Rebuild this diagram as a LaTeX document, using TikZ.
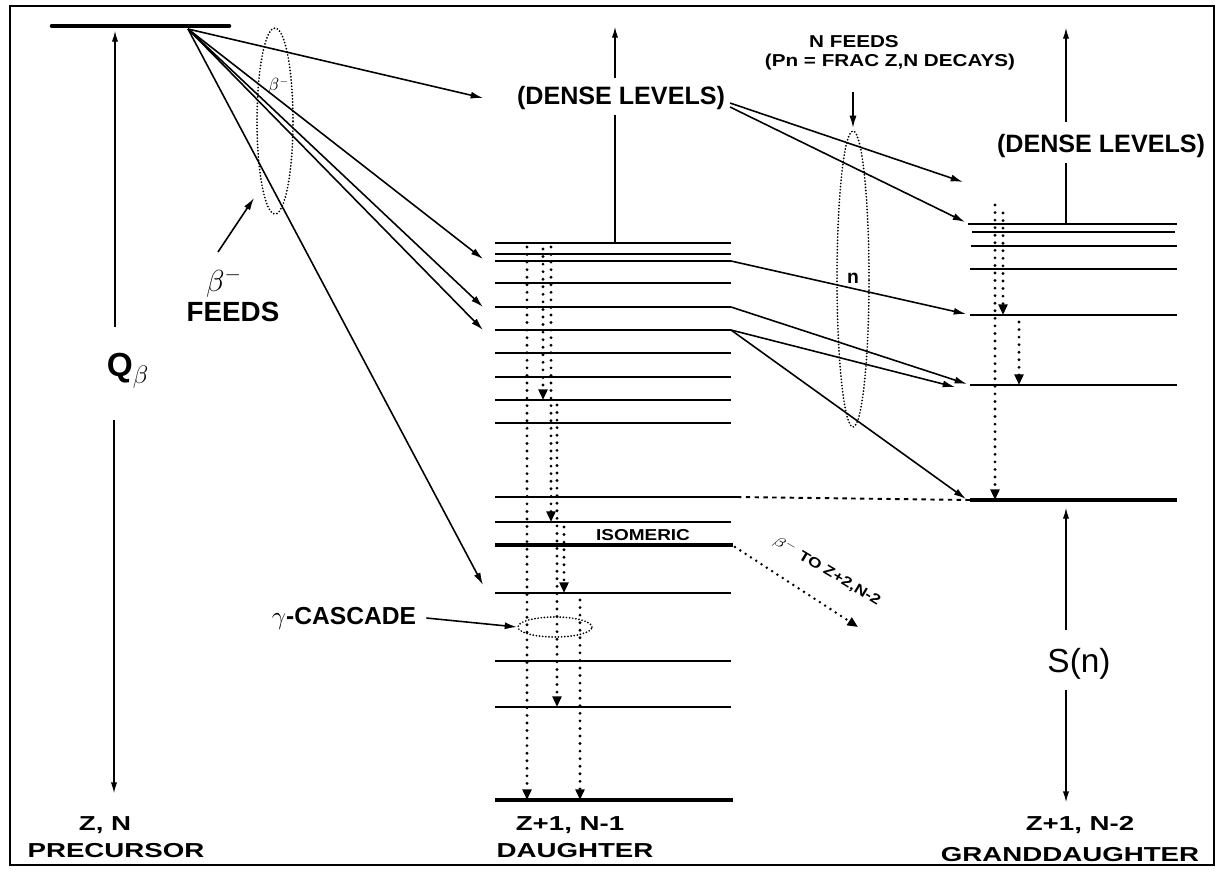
\documentclass[tikz,border=0pt]{standalone}
\usepackage{graphicx}
\usepackage{fontspec}
\setmainfont{Liberation Sans}
\usetikzlibrary{arrows.meta}
\newcommand\stretchtxt[2]{\scalebox{#1}[1]{#2}}
\begin{document}
\begin{tikzpicture}[x=0.02cm,y=-0.02cm,
  lvl/.style={line width=1.1pt},
  thicklvl/.style={line width=2.6pt},
  feed/.style={line width=0.9pt,-{Latex[length=7pt,width=4pt]}},
  axisarrow/.style={line width=0.6pt,-{Latex[length=6pt,width=3.5pt]}},
  axisline/.style={line width=0.6pt},
  gam/.style={line width=1.8pt,line cap=round,dash pattern=on 0pt off 4.3pt,-{Triangle[length=6pt,width=5pt]}},
  isodots/.style={line width=1.6pt,line cap=round,dash pattern=on 0pt off 3.6pt,-{Triangle[length=6pt,width=5pt]}},
  ell/.style={line width=1.1pt,line cap=round,dash pattern=on 0pt off 1.8pt},
  dashlvl/.style={line width=1.1pt,dash pattern=on 2.5pt off 2.5pt},
  lab/.style={inner sep=0pt,font=\fontsize{11.5}{12}\selectfont\bfseries},
  txt/.style={inner sep=0pt}
]
% canvas and frame
\fill[white] (0,0) rectangle (1219,873);
\useasboundingbox (0,0) rectangle (1219,873);
\draw[line width=1.1pt] (10,6) rectangle (1214,865);

% ================= precursor =================
\draw[thicklvl,line cap=round] (52,26) coordinate (preL) -- (229,26) coordinate (preR);
\coordinate (pre) at (188,29);
\node[txt,font=\fontsize{19}{20}\selectfont\bfseries] (qlab) at (128,371) {Q$_{\beta}$};
\coordinate (qtop) at (115,31);
\coordinate (qup) at (115,327);
\coordinate (qdn) at (114,420);
\coordinate (qbot) at (114,793);
\draw[axisarrow] (qup) -- (qtop);
\draw[axisarrow] (qdn) -- (qbot);

% beta feeds ellipse and labels
\coordinate (bell) at (275,121);
\draw[ell] (bell) ellipse [x radius=0.36cm, y radius=1.86cm];
\node[txt,font=\fontsize{10}{11}\selectfont] (bsmall) at (279,86) {$\beta^{\scriptscriptstyle -}$};
\node[txt,font=\fontsize{17}{18}\selectfont] (bbig) at (224,283) {$\beta^{-}$};
\node[txt,font=\fontsize{15.8}{17}\selectfont\bfseries] (feedslab) at (233,312) {FEEDS};
\coordinate (fa0) at (218,252);
\coordinate (fa1) at (254,198);
\draw[feed] (fa0) -- (fa1);

% ================= daughter levels =================
\foreach \yy/\nm in {243/d1,254/d2,261/d3,283/d4,307/d5,330/d6,353/d7,377/d8,400/d9,423/d10,522/d12,593/d14,661/d15,707/d16}
  \draw[lvl] (495,\yy) coordinate (\nm L) -- (731,\yy) coordinate (\nm R);
\draw[lvl] (495,497) coordinate (d11L) -- (737,497) coordinate (d11R);
\draw[thicklvl] (495,545) coordinate (d13L) -- (733,545) coordinate (d13R);
\draw[thicklvl] (495,800) coordinate (d17L) -- (733,800) coordinate (d17R);

% beta feeds to daughter
\coordinate (t1) at (483,98);
\coordinate (t2) at (483,259);
\coordinate (t3) at (483,307);
\coordinate (t4) at (483,330);
\coordinate (t5) at (483,585);
\foreach \t in {t1,t2,t3,t4,t5} \draw[feed] (pre) -- (\t);

% daughter dense levels
\node[txt,font=\fontsize{14.3}{16}\selectfont\bfseries] (dense1) at (621,98) {(DENSE LEVELS)};
\coordinate (dv0) at (615,243);
\coordinate (dv1) at (615,115);
\coordinate (dv2) at (615,78);
\coordinate (dv3) at (615,27);
\draw[axisline] (dv0) -- (dv1);
\draw[axisarrow] (dv2) -- (dv3);

% gamma cascade dotted arrows
\draw[gam] (527,247) coordinate (gA0) -- (527,800) coordinate (gA1);
\draw[gam] (543,249) coordinate (gB0) -- (543,400) coordinate (gB1);
\draw[gam] (551,247) coordinate (gC0) -- (551,522) coordinate (gC1);
\draw[gam] (557,405) coordinate (gD0) -- (557,707) coordinate (gD1);
\draw[gam] (564,527) coordinate (gE0) -- (564,593) coordinate (gE1);
\draw[gam] (580,600) coordinate (gF0) -- (580,800) coordinate (gF1);

% gamma cascade ellipse and label
\coordinate (gell) at (555,627);
\draw[ell] (gell) ellipse [x radius=0.74cm, y radius=0.2cm];
\node[txt,font=\fontsize{14}{15}\selectfont\bfseries] (gclab) at (344,618) {$\gamma$-CASCADE};
\coordinate (gcw) at (517,627);
\draw[feed] (gclab.east) ++(0.2cm,0) coordinate (gcs) -- (gcw);

% isomeric
\node[txt,font=\fontsize{9}{10}\selectfont\bfseries] (iso) at (643,535) {\stretchtxt{1.2}{ISOMERIC}};
\coordinate (isoend) at (858,627);
\draw[isodots] (735,547) coordinate (isostart) -- (isoend);
\node[txt,font=\fontsize{8}{9}\selectfont\bfseries,rotate=-31] (isolab) at (827,571) {\stretchtxt{1.25}{$\beta^{\scriptscriptstyle -}$ TO Z+2,N-2}};

% ================= granddaughter levels =================
\draw[lvl] (968,224) coordinate (g1L) -- (1177,224) coordinate (g1R);
\draw[lvl] (972,232) coordinate (g2L) -- (1175,232) coordinate (g2R);
\draw[lvl] (971,246) coordinate (g3L) -- (1177,246) coordinate (g3R);
\draw[lvl] (970,269) coordinate (g4L) -- (1177,269) coordinate (g4R);
\draw[lvl] (970,315) coordinate (g5L) -- (1177,315) coordinate (g5R);
\draw[lvl] (970,385) coordinate (g6L) -- (1177,385) coordinate (g6R);
\draw[thicklvl] (970,500) coordinate (g7L) -- (1177,500) coordinate (g7R);

% dashed link daughter level -> granddaughter ground
\draw[dashlvl] (d11R) -- (g7L);

% granddaughter dense levels
\node[txt,font=\fontsize{14.3}{16}\selectfont\bfseries] (dense2) at (1101,146) {(DENSE LEVELS)};
\coordinate (gv0) at (1066,224);
\coordinate (gv1) at (1066,163);
\coordinate (gv2) at (1066,122);
\coordinate (gv3) at (1066,28);
\draw[axisline] (gv0) -- (gv1);
\draw[axisarrow] (gv2) -- (gv3);

% neutron feeds from daughter dense levels
\coordinate (nd1) at (730,103);
\coordinate (nd2) at (730,107);
\coordinate (ng1) at (963,182);
\coordinate (ng2) at (965,222);
\draw[feed] (nd1) -- (ng1);
\draw[feed] (nd2) -- (ng2);

% neutron feeds from discrete daughter levels
\coordinate (ng5) at (966,314);
\coordinate (ng6a) at (967,384);
\coordinate (ng6b) at (955,387);
\coordinate (ng7) at (966,499);
\draw[feed] (d3R) -- (ng5);
\draw[feed] (d5R) -- (ng6a);
\draw[feed] (d6R) -- (ng6b);
\draw[feed] (d6R) -- (ng7);

% N feeds label, arrow, ellipse
\node[txt,font=\fontsize{9.8}{11}\selectfont\bfseries] (nfeeds) at (854,42) {\stretchtxt{1.2}{N FEEDS}};
\node[txt,font=\fontsize{9.8}{11}\selectfont\bfseries] (pn) at (890,62) {\stretchtxt{1.2}{(Pn = FRAC Z,N DECAYS)}};
\coordinate (na0) at (853,92);
\coordinate (na1) at (853,128);
\draw[feed] (na0) -- (na1);
\coordinate (nell) at (853,279);
\draw[ell] (nell) ellipse [x radius=0.32cm, y radius=2.96cm];
\node[txt,font=\fontsize{11}{12}\selectfont\bfseries] (nlab) at (853,278) {n};

% granddaughter gamma arrows
\draw[gam] (995,205) coordinate (hA0) -- (995,500) coordinate (hA1);
\draw[gam] (1003,213) coordinate (hB0) -- (1003,315) coordinate (hB1);
\draw[gam] (1019,322) coordinate (hC0) -- (1019,385) coordinate (hC1);

% S(n)
\node[txt,font=\fontsize{19}{20}\selectfont] (sn) at (1079,664) {S(n)};
\coordinate (sn0) at (1066,630);
\coordinate (sn1) at (1066,508);
\coordinate (sn2) at (1066,690);
\coordinate (sn3) at (1066,802);
\draw[axisarrow] (sn0) -- (sn1);
\draw[axisarrow] (sn2) -- (sn3);

% ================= bottom labels =================
\node[lab] (zn) at (105,825) {\stretchtxt{1.37}{Z, N}};
\node[lab] (prec) at (116,851) {\stretchtxt{1.37}{PRECURSOR}};
\node[lab] (zn1) at (570,825) {\stretchtxt{1.37}{Z+1, N-1}};
\node[lab] (daug) at (575,851) {\stretchtxt{1.37}{DAUGHTER}};
\node[lab] (zn2) at (1080,825) {\stretchtxt{1.37}{Z+1, N-2}};
\node[lab] (gdaug) at (1070,855) {\stretchtxt{1.37}{GRANDDAUGHTER}};
\end{tikzpicture}
\end{document}
